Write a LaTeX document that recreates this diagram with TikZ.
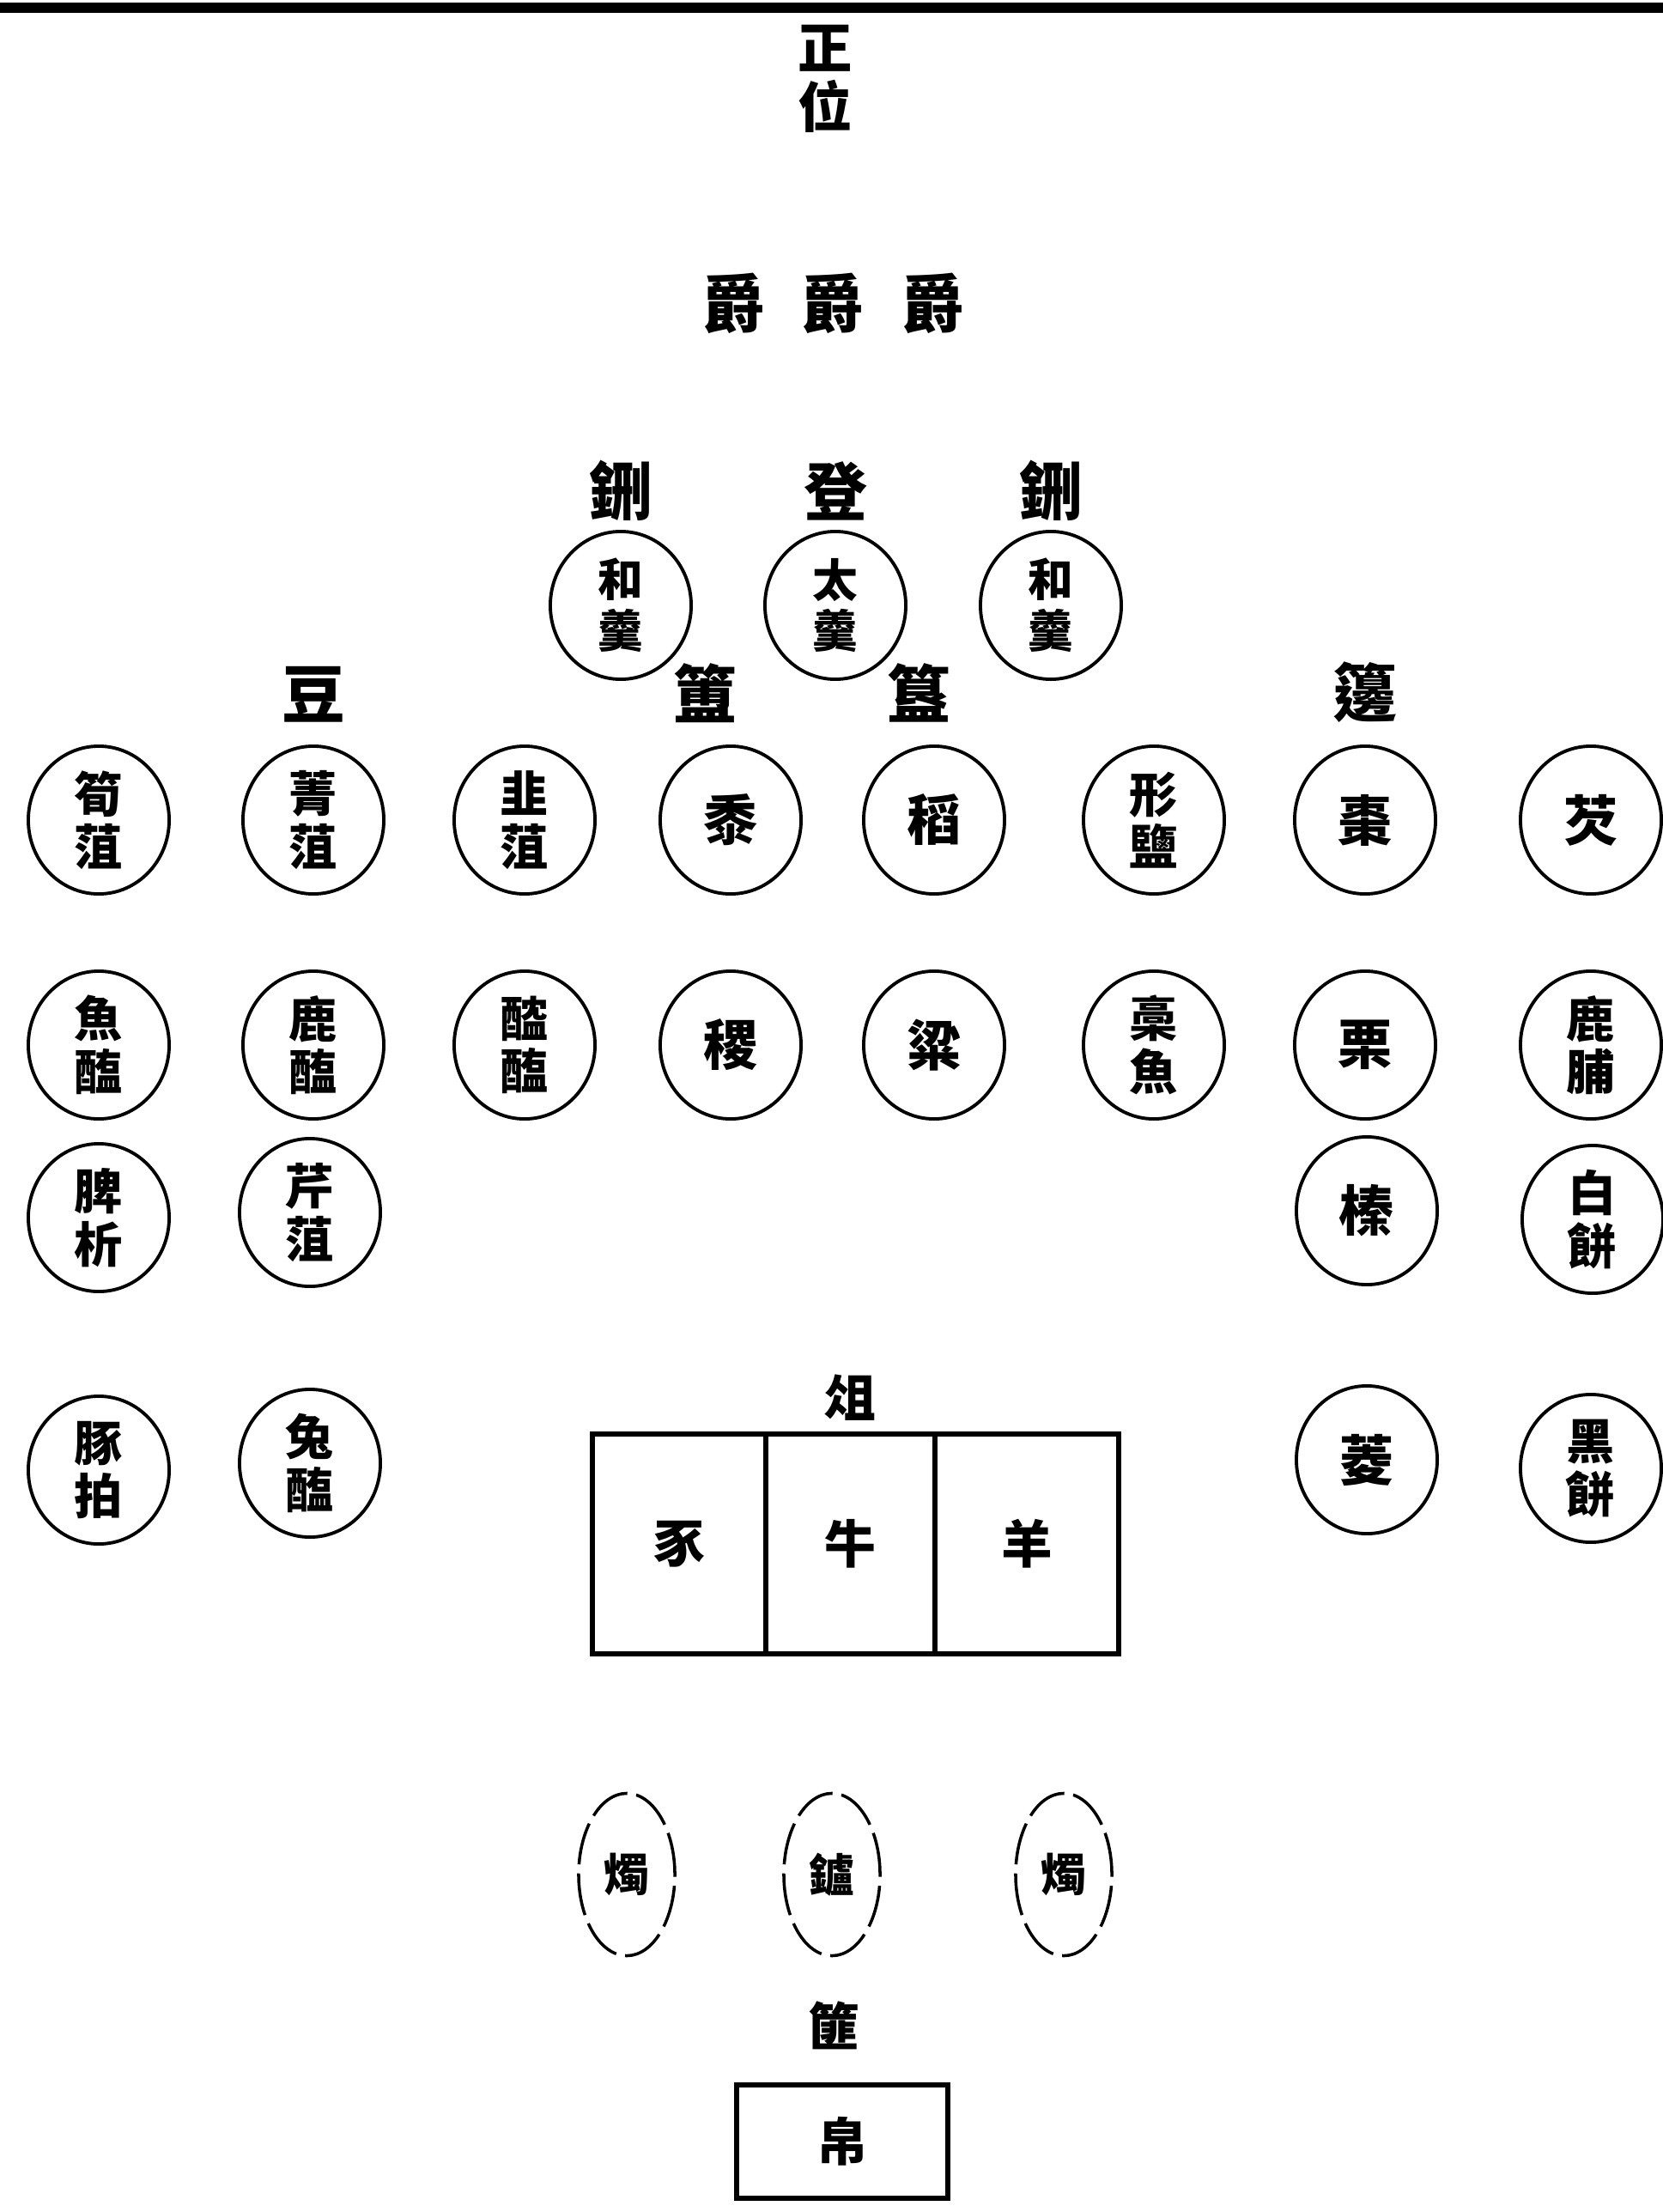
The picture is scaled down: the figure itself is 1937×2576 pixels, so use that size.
\documentclass[tikz,border=0pt]{standalone}
\usepackage{fontspec}
\newfontfamily\cjk{Noto Sans CJK TC}
\usepackage{tikz}
\usetikzlibrary{positioning, shapes.geometric}

\begin{document}
\begin{tikzpicture}[
  x=0.01cm, y=-0.01cm,
  dish/.style={
    ellipse, draw, line width=1.1pt,
    minimum width=1.64cm, minimum height=1.72cm,
    inner sep=0pt, align=center,
    font=\cjk\bfseries\fontsize{16}{17.5}\selectfont
  },
  sdish/.style={dish, font=\cjk\bfseries\fontsize{18}{20}\selectfont},
  lbl/.style={inner sep=0pt, font=\cjk\bfseries\fontsize{21}{22}\selectfont},
  candle/.style={
    ellipse, draw, line width=1pt, dash pattern=on 14pt off 3pt,
    minimum width=1.12cm, minimum height=1.89cm, inner sep=0pt,
    font=\cjk\bfseries\fontsize{15}{16}\selectfont
  },
  tray/.style={
    rectangle, draw, line width=1.7pt, minimum height=2.55cm,
    inner sep=0pt, outer sep=0pt,
    font=\cjk\bfseries\fontsize{17}{18}\selectfont
  }
]
\useasboundingbox (0,0) rectangle (1937,2576);

% === Top rule and title ===
\draw[line width=3.4pt] (0,9) -- (1937,9);
\node[lbl, align=center, font=\cjk\bfseries\fontsize{18}{19.6}\selectfont]
  (zw) at (961,92) {正\\位};

% === Cups ===
\node[lbl] (j1) at (854,353) {爵};
\node[lbl] (j2) at (969,353) {爵};
\node[lbl] (j3) at (1086,353) {爵};

% === Soup vessels ===
\node[dish, font=\cjk\bfseries\fontsize{15}{17}\selectfont] (h1) at (723,705) {和\\羹};
\node[dish, font=\cjk\bfseries\fontsize{15}{17}\selectfont] (h2) at (973,705) {太\\羹};
\node[dish, font=\cjk\bfseries\fontsize{15}{17}\selectfont] (h3) at (1224,705) {和\\羹};
\node[lbl, above=0.1cm of h1] (x1) {鉶};
\node[lbl, above=0.1cm of h2] (x2) {登};
\node[lbl, above=0.1cm of h3] (x3) {鉶};

% === Row 1 ===
\node[dish]  (d11) at (115,955)  {筍\\菹};
\node[dish]  (d12) at (365,955)  {菁\\菹};
\node[dish]  (d13) at (611,955)  {韭\\菹};
\node[sdish] (d14) at (851,955)  {黍};
\node[sdish] (d15) at (1088,955) {稻};
\node[dish]  (d16) at (1344,955) {形\\鹽};
\node[sdish] (d17) at (1590,955) {棗};
\node[sdish] (d18) at (1853,955) {芡};

\node[lbl, above=0.25cm of d12] (dou) {豆};
\node[lbl, above=0.25cm of d14, xshift=-0.3cm] (fu) {簠};
\node[lbl, above=0.25cm of d15, xshift=-0.18cm] (gui) {簋};
\node[lbl, above=0.25cm of d17] (bian) {籩};

% === Row 2 ===
\node[dish]  (d21) at (115,1217)  {魚\\醢};
\node[dish]  (d22) at (365,1217)  {鹿\\醢};
\node[dish]  (d23) at (611,1217)  {醓\\醢};
\node[sdish] (d24) at (851,1217)  {稷};
\node[sdish] (d25) at (1088,1217) {粱};
\node[dish]  (d26) at (1344,1217) {槀\\魚};
\node[sdish] (d27) at (1590,1217) {栗};
\node[dish]  (d28) at (1853,1217) {鹿\\脯};

% === Rows 3 and 4 ===
\node[dish]  (d31) at (115,1418)  {脾\\析};
\node[dish]  (d32) at (361,1412)  {芹\\菹};
\node[sdish] (d37) at (1592,1410) {榛};
\node[dish]  (d38) at (1855,1420) {白\\餅};

\node[dish]  (d41) at (115,1712)  {豚\\拍};
\node[dish]  (d42) at (361,1704)  {兔\\醢};
\node[sdish] (d47) at (1592,1700) {菱};
\node[dish]  (d48) at (1853,1710) {黑\\餅};

% === Meat stand ===
\node[tray, minimum width=2.02cm] (zu1) at (791,1798) {豕};
\node[tray, minimum width=1.97cm, right=0pt of zu1] (zu2) {牛};
\node[tray, minimum width=2.14cm, right=0pt of zu2] (zu3) {羊};
\node[lbl, above=0.15cm of zu2, font=\cjk\bfseries\fontsize{17}{18}\selectfont] (zu) {俎};

% === Candles and burner ===
\node[candle] (k1) at (730,2183)  {燭};
\node[candle] (k2) at (969,2183)  {鑪};
\node[candle] (k3) at (1239,2183) {燭};

% === Silk basket ===
\node[tray, minimum width=2.45cm, minimum height=1.32cm] (bo) at (981,2494) {帛};
\node[lbl, above=0.4cm of bo, xshift=-0.1cm, font=\cjk\bfseries\fontsize{17}{18}\selectfont] (fei) {篚};

\end{tikzpicture}
\end{document}
